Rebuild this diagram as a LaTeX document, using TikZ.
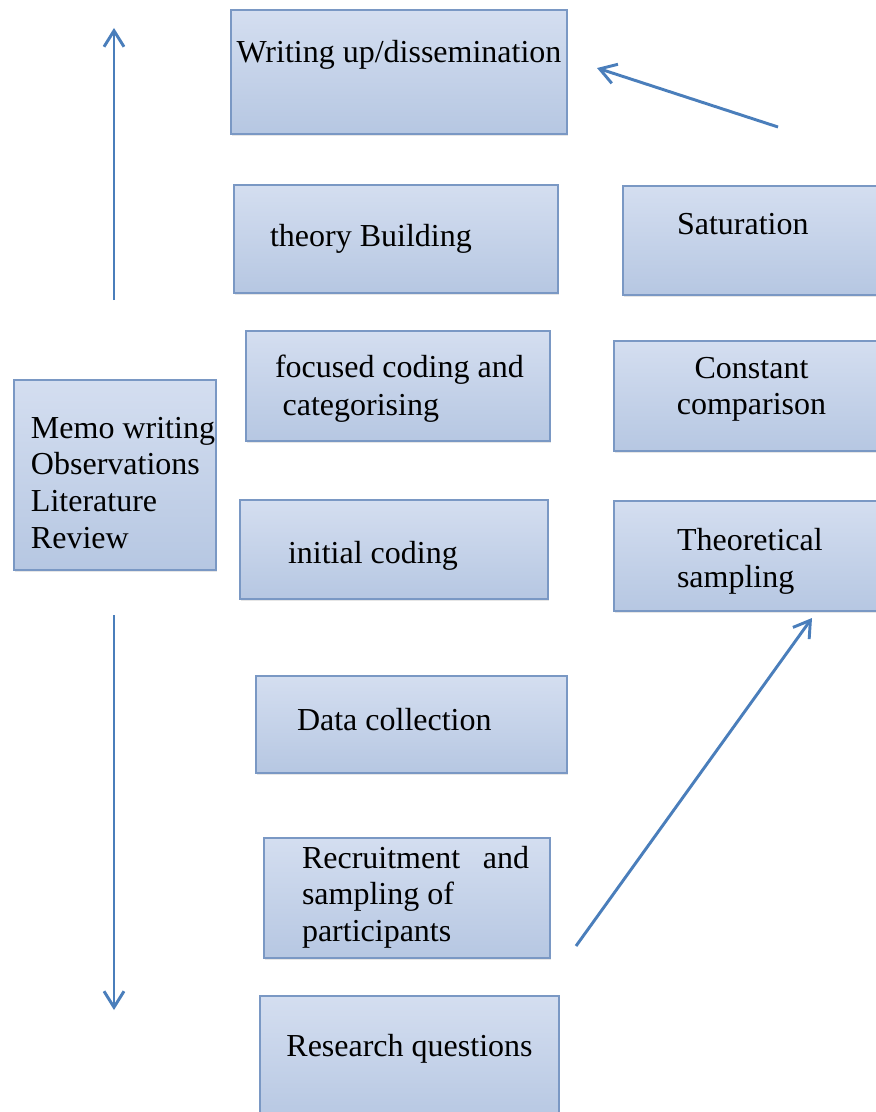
\documentclass[tikz,border=0pt]{standalone}
\usepackage{fontspec}
\setmainfont{Liberation Serif}
\usepackage{tikz}
\usetikzlibrary{arrows.meta,shadows}

\definecolor{boxline}{RGB}{122,152,196}
\definecolor{boxtop}{RGB}{212,222,240}
\definecolor{boxbot}{RGB}{182,199,226}
\definecolor{arrowblue}{RGB}{74,126,187}

\begin{document}
\begin{tikzpicture}[
  x=0.75pt, y=-0.75pt,
  box/.style={draw=boxline, line width=1pt, top color=boxtop, bottom color=boxbot,
    inner ysep=0pt, text height=16pt, font=\fontsize{24pt}{27.5pt}\selectfont,
    drop shadow={shadow xshift=1pt, shadow yshift=-1.5pt, opacity=0.2}},
  arr/.style={draw=arrowblue, line width=2.2pt, -{Straight Barb[length=12pt,width=15pt]}},
]
  \useasboundingbox (0,0) rectangle (875,1112);

  \node[box, minimum width=252pt, minimum height=93pt, text depth=29.5pt] (write) at (399,72) {Writing up/dissemination};
  \node[box, minimum width=243pt, minimum height=81pt, text width=189pt, inner xsep=27pt, align=flush left, text depth=4pt] (theory) at (396,239) {theory Building};
  \node[box, minimum width=228pt, minimum height=82.5pt, text width=192pt, inner xsep=18pt, align=flush left, text depth=28.5pt] (focus) at (398,386) {\hspace*{3.75pt}focused coding and\\[0.6pt]\hspace*{9.5pt}categorising};
  \node[box, minimum width=231pt, minimum height=74.25pt, text width=159pt, inner xsep=36pt, align=flush left, text height=26pt, text depth=5.75pt] (initial) at (394,549.5) {initial coding};
  \node[box, minimum width=233.25pt, minimum height=72.75pt, text width=171.75pt, inner xsep=30.75pt, align=flush left, text depth=7.75pt] (data) at (411.5,724.5) {Data collection};
  \node[box, minimum width=214.5pt, minimum height=90pt, text width=157.5pt, inner xsep=28.5pt, align=flush left, text depth=61pt] (recruit) at (407,898) {\mbox{Recruitment\hspace{17pt}and}\\sampling of\\participants};
  \node[box, minimum width=224.25pt, minimum height=96pt, text depth=22pt] (rq) at (409.5,1060) {Research questions};

  \node[box, minimum width=196.5pt, minimum height=81.75pt, text width=115.5pt, inner xsep=40.5pt, align=flush left, text depth=24.25pt] (satur) at (754,240.5) {Saturation};
  \node[box, minimum width=206.25pt, minimum height=82.5pt, text width=176.25pt, inner xsep=15pt, align=center, text depth=43pt] (compare) at (751.5,396) {Constant\\comparison};
  \node[box, minimum width=244.5pt, minimum height=82.5pt, text width=150pt, inner xsep=47.25pt, align=flush left, text depth=24pt] (tsample) at (777,556) {Theoretical\\sampling};

  \node[box, minimum width=151.5pt, minimum height=142.5pt, text width=151.5pt, inner xsep=0pt, align=flush left, text depth=71.5pt] (memo) at (115,475) {\hspace*{12.75pt}Memo writing\\\hspace*{12.75pt}Observations\\\hspace*{12.75pt}Literature\\\hspace*{12.75pt}Review};

  \coordinate (upfrom) at (114,300);
  \coordinate (upto) at (114,28);
  \coordinate (downfrom) at (114,615);
  \coordinate (downto) at (114,1010);
  \coordinate (backfrom) at (778,127);
  \coordinate (backto) at (597,68);
  \coordinate (risefrom) at (576,946);
  \coordinate (riseto) at (812,618);

  \draw[arr] (upfrom) -- (upto);
  \draw[arr] (downfrom) -- (downto);
  \draw[arr] (backfrom) -- (backto);
  \draw[arr] (risefrom) -- (riseto);
\end{tikzpicture}
\end{document}
